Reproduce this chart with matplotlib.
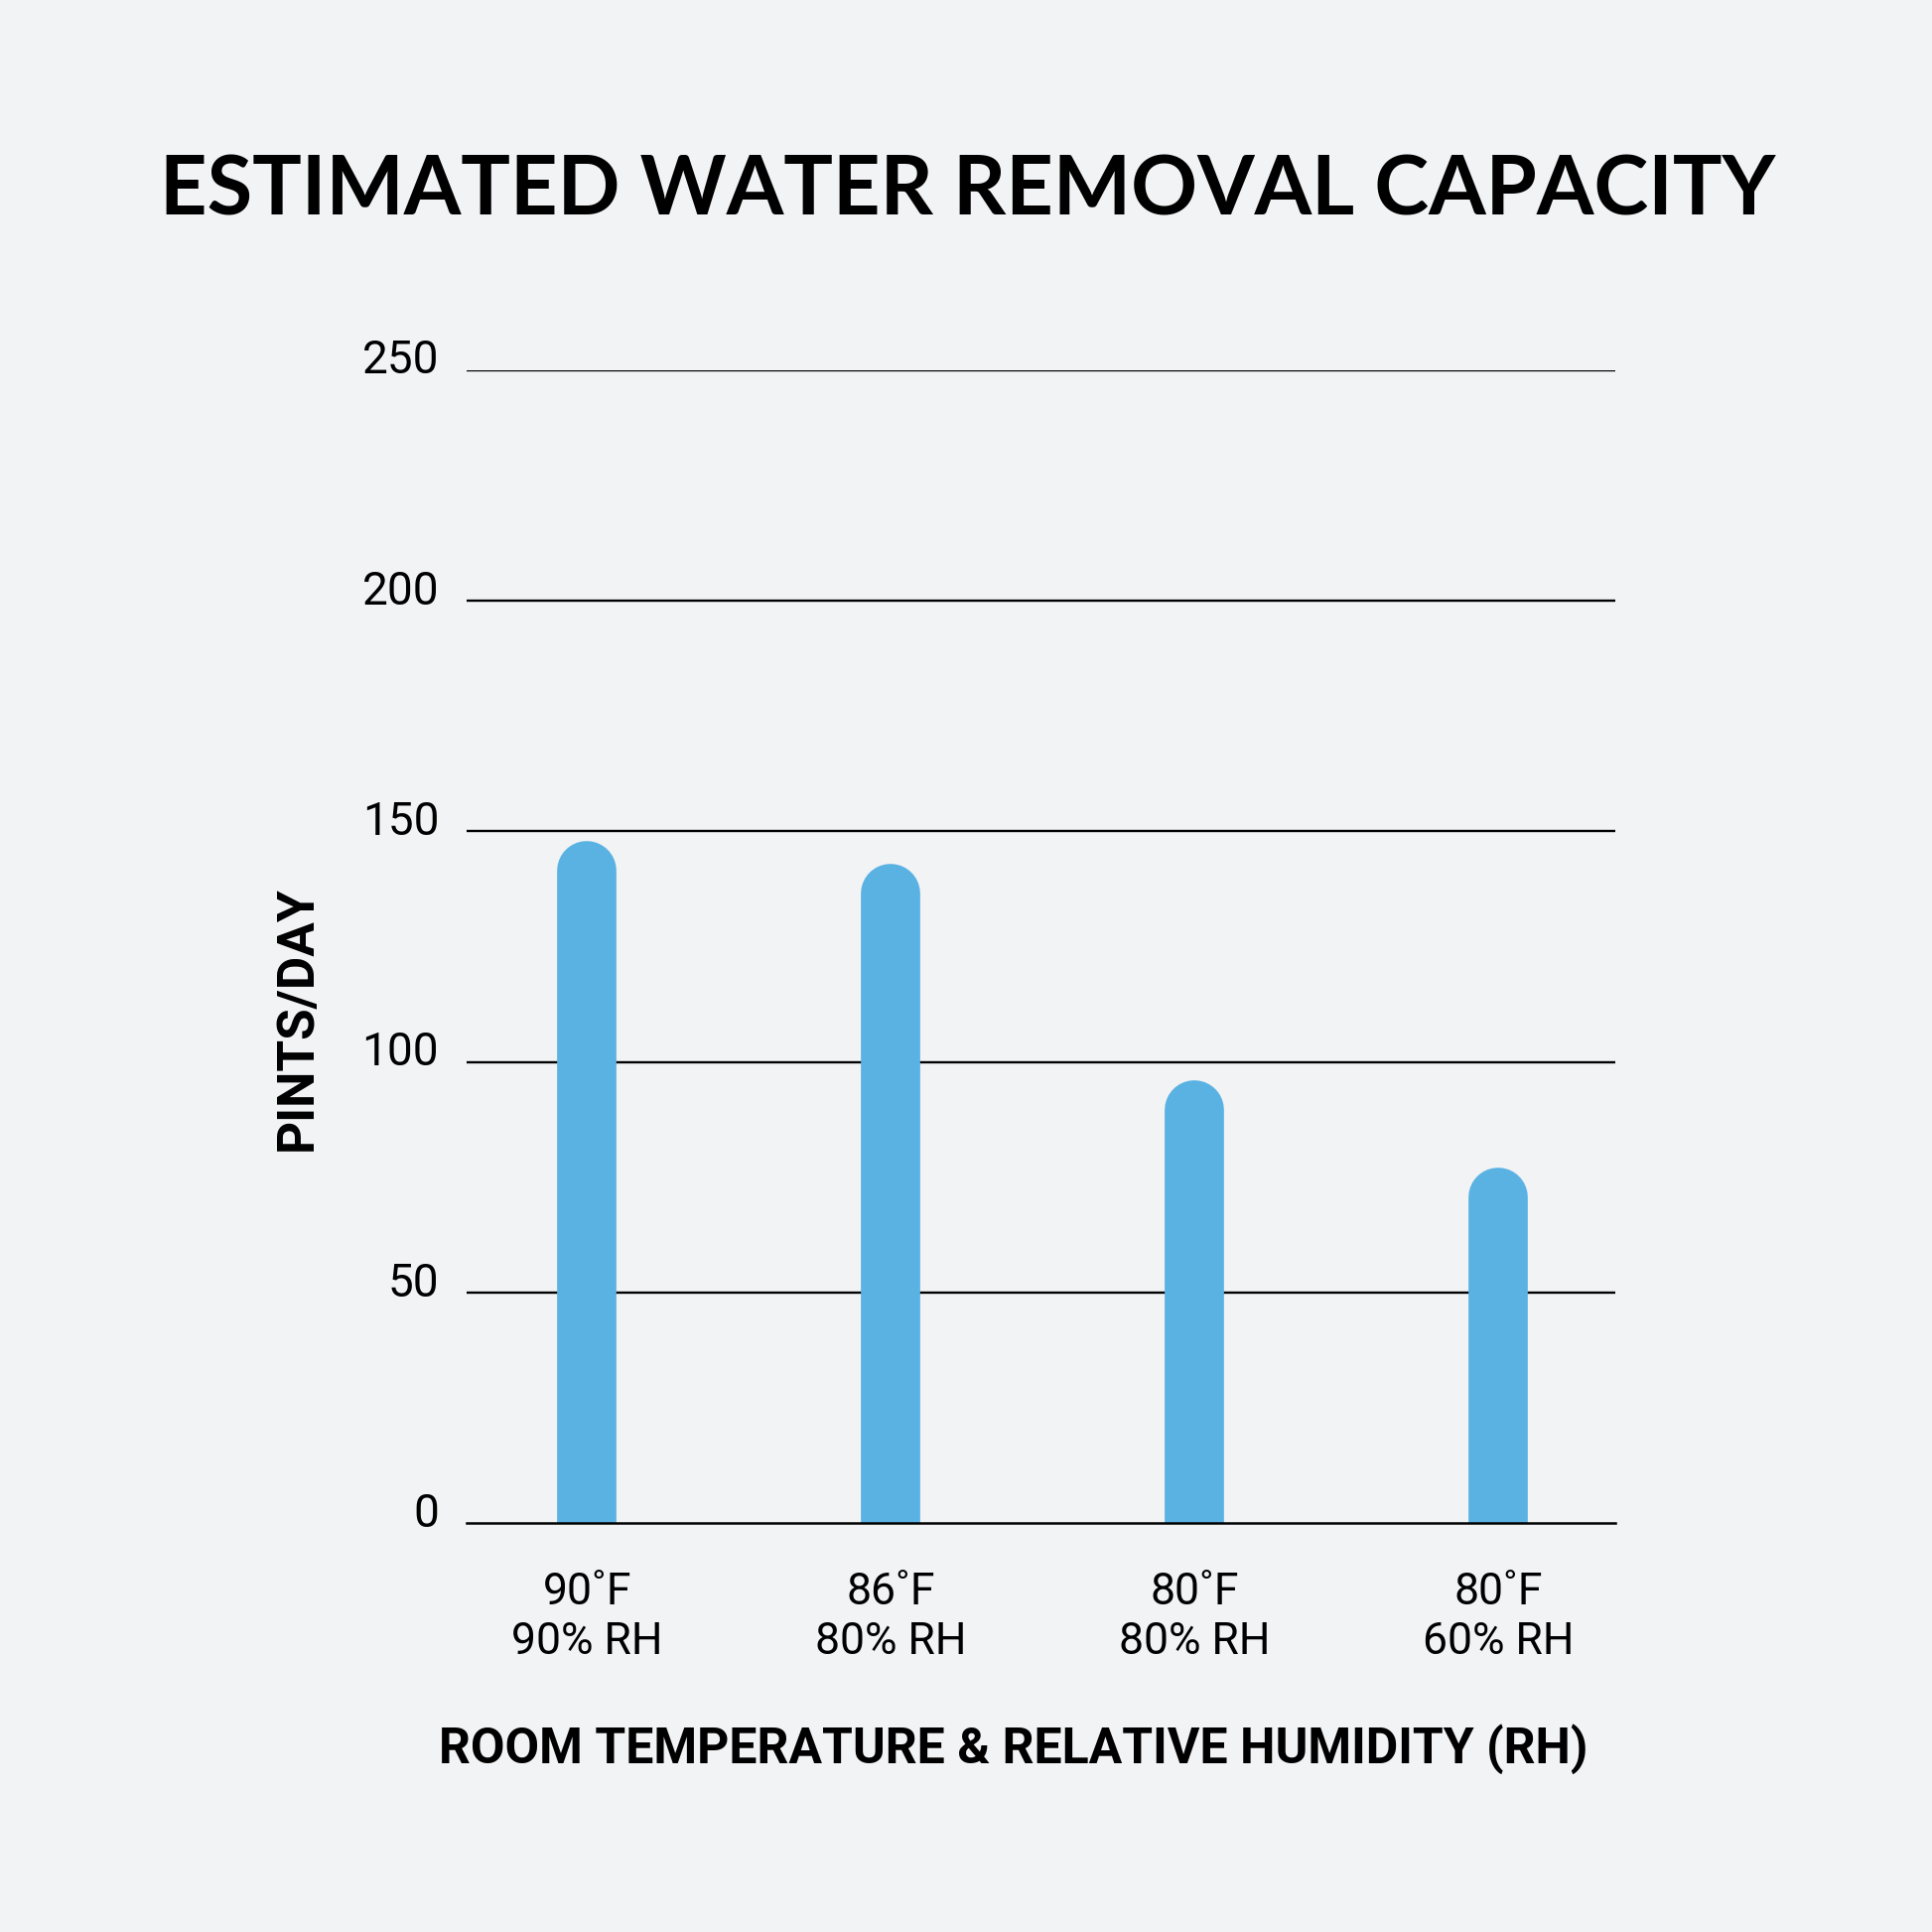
import matplotlib
matplotlib.use('Agg')
from matplotlib import pyplot as plt
from matplotlib.transforms import ScaledTranslation
from matplotlib import font_manager
import numpy as np

temps = ['90˚F', '86˚F', '80˚F', '80˚F']
humidity = ['90% RH', '80% RH', '80% RH', '60% RH']
pints_per_day = [148, 143, 96, 77]
y_ticks = [0, 50, 100, 150, 200, 250]

BG = '#F2F3F5'
BAR = '#5AB2E3'

names = {f.name for f in font_manager.fontManager.ttflist}
narrow = 'Liberation Sans Narrow' if 'Liberation Sans Narrow' in names else 'Roboto'

fig = plt.figure(figsize=(19.46, 19.46), dpi=100, facecolor=BG)
ax = fig.add_axes([0.2415, 0.2115, 0.5945, 0.597])
ax.set_facecolor(BG)

x = np.arange(len(pints_per_day))
ax.set_xlim(-0.397, 3.385)
ax.set_ylim(0, 250)

# bars drawn as thick lines with round caps; top of cap sits on the value
bar_lw = 43  # points
fig.canvas.draw()
cap_px = bar_lw / 2 * fig.dpi / 72
px_per_unit = ax.transData.transform((0, 1))[1] - ax.transData.transform((0, 0))[1]
cap = cap_px / px_per_unit
for xi, v in zip(x, pints_per_day):
    ax.plot([xi, xi], [-cap * 2, v - cap], color=BAR, lw=bar_lw,
            solid_capstyle='round', zorder=3)

for t in y_ticks[1:]:
    ax.axhline(t, color='black', lw=1.7, zorder=2)

for s in ('top', 'right', 'left'):
    ax.spines[s].set_visible(False)
ax.spines['bottom'].set_linewidth(1.8)
ax.spines['bottom'].set_zorder(4)

ax.set_yticks(y_ticks)
ax.set_yticklabels([str(t) for t in y_ticks], fontsize=33, family=narrow)
ax.tick_params(axis='y', length=0, pad=20)
for lab in ax.get_yticklabels():
    lab.set_transform(lab.get_transform() + ScaledTranslation(0, 0.14, fig.dpi_scale_trans))

ax.set_xticks(x)
ax.set_xticklabels([f'{a}\n{b}' for a, b in zip(temps, humidity)],
                   fontsize=32, family=narrow, linespacing=1.25)
ax.tick_params(axis='x', length=0, pad=35)

ax.set_xlabel('ROOM TEMPERATURE & RELATIVE HUMIDITY (RH)', fontsize=36,
              fontweight='bold', family=narrow)
ax.xaxis.set_label_coords(0.4765, -0.1735)
ax.set_ylabel('PINTS/DAY', fontsize=37, fontweight='bold', family=narrow)
ax.yaxis.set_label_coords(-0.1255, 0.438)

fig.text(0.501, 0.901, 'ESTIMATED WATER REMOVAL CAPACITY', ha='center', va='center',
         fontsize=59.7, fontweight='bold', family='Lato')

plt.savefig('out.png', dpi=100, facecolor=BG)
